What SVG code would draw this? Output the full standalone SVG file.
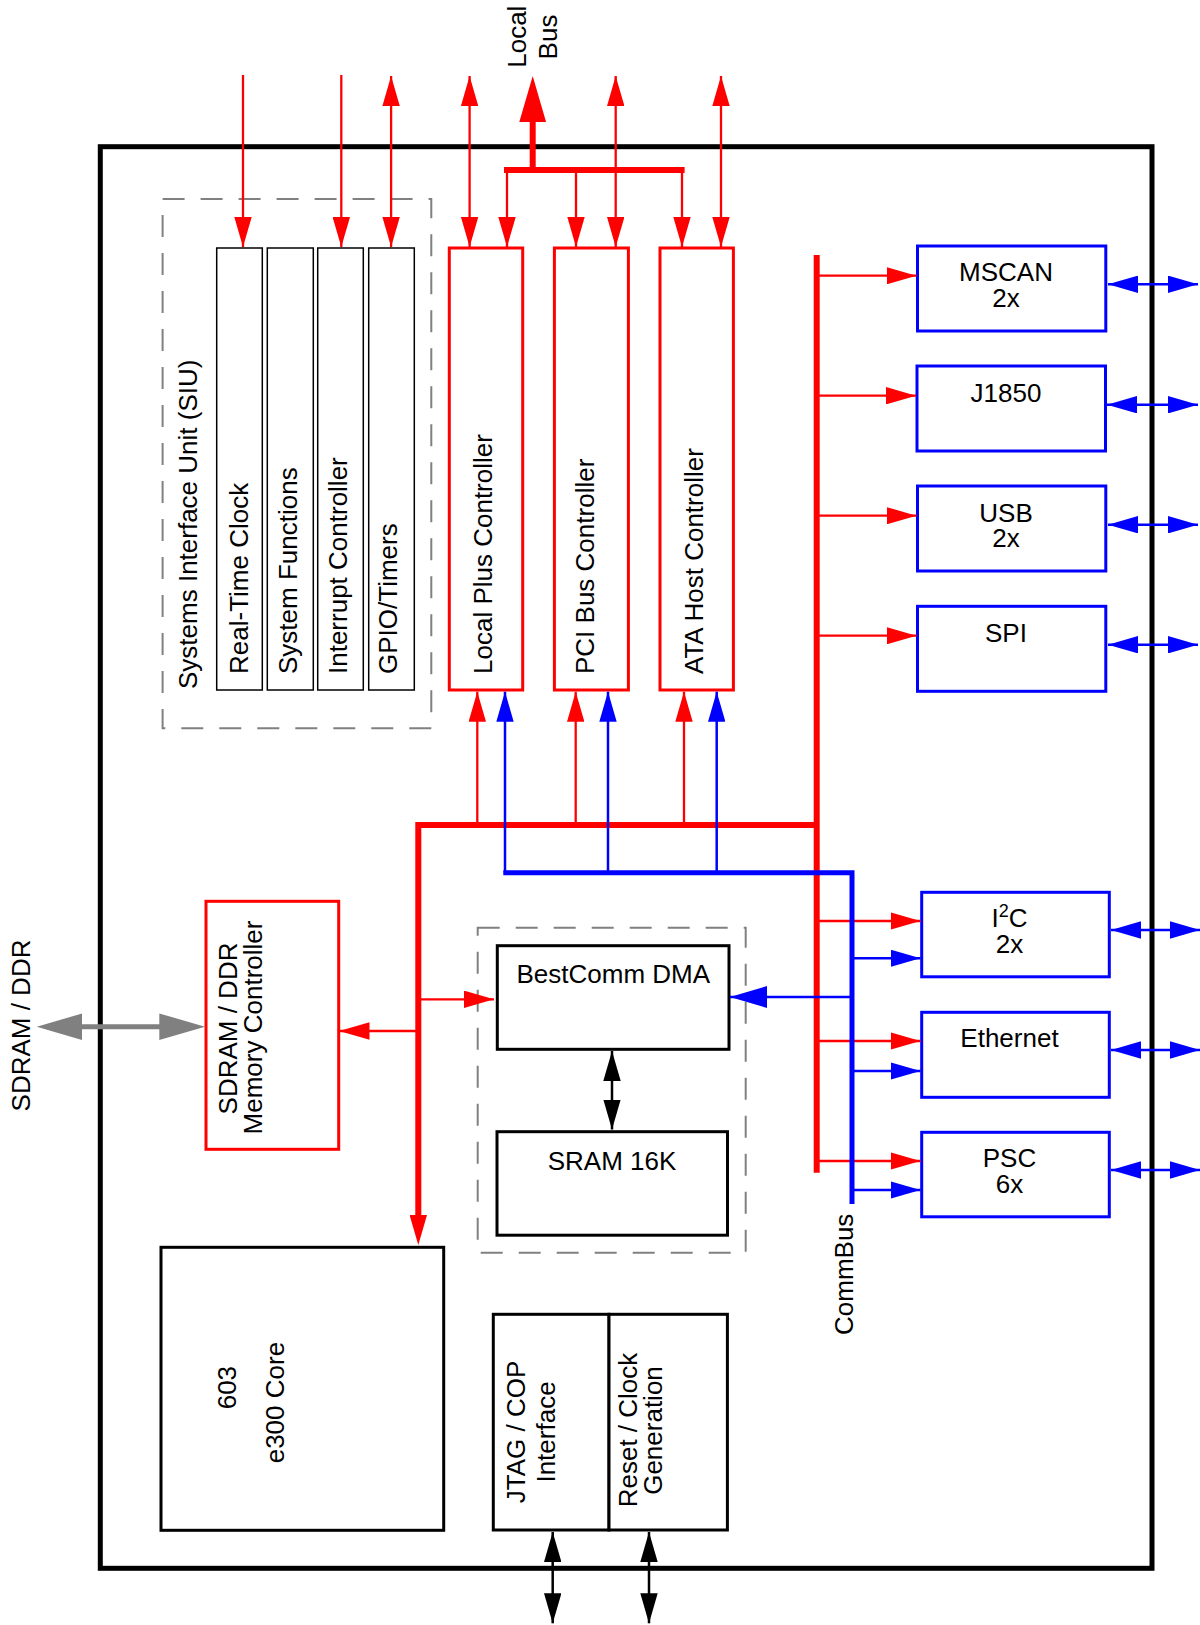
<svg xmlns="http://www.w3.org/2000/svg" width="1200" height="1625" viewBox="0 0 1200 1625">
<style>
.t{font-family:"Liberation Sans",Arial,Helvetica,sans-serif;font-size:26px;fill:#000}
.m{text-anchor:middle}
.rbox{fill:#fff;stroke:#f00;stroke-width:3}
.bbox{fill:#fff;stroke:#00f;stroke-width:3}
.kbox{fill:#fff;stroke:#000;stroke-width:3}
.sub{fill:#fff;stroke:#000;stroke-width:1.5}
.dash{fill:none;stroke:#808080;stroke-width:2;stroke-dasharray:22 16}
.rl{fill:none;stroke:#f00;stroke-width:2.3}
.bl{fill:none;stroke:#00f;stroke-width:2.5}
.kl{fill:none;stroke:#000;stroke-width:2.5}
.rbus{fill:none;stroke:#f00;stroke-width:6}
.bbus{fill:none;stroke:#00f;stroke-width:5}
</style>
<defs>
<marker id="mR" markerUnits="userSpaceOnUse" markerWidth="30" markerHeight="17.4" refX="30" refY="8.7" orient="auto-start-reverse"><path d="M0,0 L30,8.7 L0,17.4 z" fill="#f00"/></marker>
<marker id="mB" markerUnits="userSpaceOnUse" markerWidth="30" markerHeight="17.4" refX="30" refY="8.7" orient="auto-start-reverse"><path d="M0,0 L30,8.7 L0,17.4 z" fill="#00f"/></marker>
<marker id="mK" markerUnits="userSpaceOnUse" markerWidth="30" markerHeight="17.4" refX="30" refY="8.7" orient="auto-start-reverse"><path d="M0,0 L30,8.7 L0,17.4 z" fill="#000"/></marker>
<marker id="mBbig" markerUnits="userSpaceOnUse" markerWidth="37" markerHeight="22" refX="37" refY="11" orient="auto-start-reverse"><path d="M0,0 L37,11 L0,22 z" fill="#00f"/></marker>
<marker id="mRbig" markerUnits="userSpaceOnUse" markerWidth="46" markerHeight="26.8" refX="2" refY="13.4" orient="auto-start-reverse"><path d="M0,0 L46,13.4 L0,26.8 z" fill="#f00"/></marker>
<marker id="mRbus" markerUnits="userSpaceOnUse" markerWidth="30" markerHeight="17.4" refX="2" refY="8.7" orient="auto-start-reverse"><path d="M0,0 L30,8.7 L0,17.4 z" fill="#f00"/></marker>
<marker id="mG" markerUnits="userSpaceOnUse" markerWidth="46" markerHeight="26.6" refX="2" refY="13.3" orient="auto-start-reverse"><path d="M0,0 L45.7,13.3 L0,26.6 z" fill="#808080"/></marker>
</defs>
<rect width="1200" height="1625" fill="#fff"/>

<g id="chip-border">
<rect x="100.3" y="146.7" width="1051.7" height="1421.6" fill="none" stroke="#000" stroke-width="5"/>
</g>

<g id="labels">
<text class="t m" transform="translate(526,36.7) rotate(-90)">Local</text>
<text class="t m" transform="translate(557.3,37) rotate(-90)">Bus</text>
<text class="t m" transform="translate(30,1025.5) rotate(-90)">SDRAM / DDR</text>
<text class="t" transform="translate(853.3,1335) rotate(-90)">CommBus</text>
</g>

<g id="siu">
<rect class="dash" x="162.6" y="199" width="268.7" height="529.3"/>
<text class="t" transform="translate(197,689) rotate(-90)">Systems Interface Unit (SIU)</text>
</g>
<g id="rtc">
<rect class="sub" x="216.7" y="248" width="45.6" height="442"/>
<text class="t" transform="translate(247.5,674) rotate(-90)">Real-Time Clock</text>
</g>
<g id="sysfunc">
<rect class="sub" x="267.3" y="248" width="46" height="442"/>
<text class="t" transform="translate(297,674) rotate(-90)">System Functions</text>
</g>
<g id="intctrl">
<rect class="sub" x="317.7" y="248" width="45.6" height="442"/>
<text class="t" transform="translate(346.5,674) rotate(-90)">Interrupt Controller</text>
</g>
<g id="gpio">
<rect class="sub" x="368.7" y="248" width="45.6" height="442"/>
<text class="t" transform="translate(397,674) rotate(-90)">GPIO/Timers</text>
</g>

<g id="lpc">
<rect class="rbox" x="449.3" y="248" width="73.4" height="442"/>
<text class="t" transform="translate(492,674) rotate(-90)">Local Plus Controller</text>
</g>
<g id="pci">
<rect class="rbox" x="554.4" y="248" width="74" height="442"/>
<text class="t" transform="translate(593.5,674) rotate(-90)">PCI Bus Controller</text>
</g>
<g id="ata">
<rect class="rbox" x="660" y="248" width="73.4" height="442"/>
<text class="t" transform="translate(703,674) rotate(-90)">ATA Host Controller</text>
</g>

<g id="mscan">
<rect class="bbox" x="917.5" y="246" width="188.3" height="85"/>
<text class="t m" x="1006" y="281">MSCAN</text>
<text class="t m" x="1006" y="307">2x</text>
</g>
<g id="j1850">
<rect class="bbox" x="917" y="366" width="188.5" height="85"/>
<text class="t m" x="1006" y="401.5">J1850</text>
</g>
<g id="usb">
<rect class="bbox" x="917.5" y="486" width="188.3" height="85"/>
<text class="t m" x="1006" y="521.5">USB</text>
<text class="t m" x="1006" y="547.3">2x</text>
</g>
<g id="spi">
<rect class="bbox" x="917.5" y="606.3" width="188.3" height="85"/>
<text class="t m" x="1006" y="641.5">SPI</text>
</g>
<g id="i2c">
<rect class="bbox" x="921.7" y="892.3" width="187.6" height="84.5"/>
<text class="t m" x="1009.5" y="926.7">I<tspan dy="-10" font-size="18">2</tspan><tspan dy="10">C</tspan></text>
<text class="t m" x="1009.5" y="953.3">2x</text>
</g>
<g id="ethernet">
<rect class="bbox" x="921.7" y="1012.3" width="187.6" height="85"/>
<text class="t m" x="1009.5" y="1046.7">Ethernet</text>
</g>
<g id="psc">
<rect class="bbox" x="921.7" y="1132.3" width="187.6" height="84.5"/>
<text class="t m" x="1009.5" y="1166.7">PSC</text>
<text class="t m" x="1009.5" y="1193.3">6x</text>
</g>

<g id="sdram-ctrl">
<rect class="rbox" x="206" y="901.3" width="132.7" height="248"/>
<text class="t m" transform="translate(236.7,1028.5) rotate(-90)">SDRAM / DDR</text>
<text class="t m" transform="translate(262.3,1027.5) rotate(-90)">Memory Controller</text>
</g>

<g id="bestcomm-group">
<rect class="dash" x="477.7" y="927.7" width="268" height="325"/>
</g>
<g id="bestcomm">
<rect class="kbox" x="497.3" y="945.7" width="231.7" height="103.6"/>
<text class="t m" x="613.3" y="983.3">BestComm DMA</text>
</g>
<g id="sram">
<rect class="kbox" x="497" y="1131.7" width="230.5" height="103.5"/>
<text class="t m" x="612" y="1170">SRAM 16K</text>
</g>

<g id="core">
<rect class="kbox" x="161" y="1247.3" width="282.7" height="283"/>
<text class="t" transform="translate(236,1409.3) rotate(-90)">603</text>
<text class="t" transform="translate(284.3,1463.3) rotate(-90)">e300 Core</text>
</g>
<g id="jtag">
<rect class="kbox" x="493.3" y="1314.3" width="115.7" height="215.7"/>
<text class="t m" transform="translate(524.8,1432) rotate(-90)">JTAG / COP</text>
<text class="t m" transform="translate(555,1432) rotate(-90)">Interface</text>
</g>
<g id="reset-clock">
<rect class="kbox" x="609" y="1314.3" width="118.4" height="215.7"/>
<text class="t m" transform="translate(636.7,1430) rotate(-90)">Reset / Clock</text>
<text class="t m" transform="translate(662.4,1430.5) rotate(-90)">Generation</text>
</g>

<g id="connectors">
<!-- top external signals -->
<line class="rl" x1="243" y1="75" x2="243" y2="247" marker-end="url(#mR)"/>
<line class="rl" x1="341.3" y1="75" x2="341.3" y2="247" marker-end="url(#mR)"/>
<line class="rl" x1="391.1" y1="76" x2="391.1" y2="247" marker-start="url(#mR)" marker-end="url(#mR)"/>
<line class="rl" x1="469.6" y1="76" x2="469.6" y2="247" marker-start="url(#mR)" marker-end="url(#mR)"/>
<line class="rl" x1="615.7" y1="76" x2="615.7" y2="247" marker-start="url(#mR)" marker-end="url(#mR)"/>
<line class="rl" x1="721" y1="76" x2="721" y2="247" marker-start="url(#mR)" marker-end="url(#mR)"/>
<!-- local bus -->
<line class="rbus" x1="532.7" y1="170" x2="532.7" y2="120" marker-end="url(#mRbig)"/>
<line class="rbus" x1="504" y1="170" x2="684.6" y2="170"/>
<line class="rl" x1="507" y1="170" x2="507" y2="247" marker-end="url(#mR)"/>
<line class="rl" x1="576" y1="170" x2="576" y2="247" marker-end="url(#mR)"/>
<line class="rl" x1="682" y1="170" x2="682" y2="247" marker-end="url(#mR)"/>
<!-- red system bus -->
<line class="rbus" x1="816.7" y1="255" x2="816.7" y2="1172.7"/>
<path class="rbus" d="M816.7,825 L418.3,825 L418.3,1217" marker-end="url(#mRbus)"/>
<line class="rl" x1="477.3" y1="825" x2="477.3" y2="691.7" marker-end="url(#mR)"/>
<line class="rl" x1="575.7" y1="825" x2="575.7" y2="691.7" marker-end="url(#mR)"/>
<line class="rl" x1="684" y1="825" x2="684" y2="691.7" marker-end="url(#mR)"/>
<line class="rl" x1="418.3" y1="999.3" x2="494" y2="999.3" marker-end="url(#mR)"/>
<line class="rl" x1="418.3" y1="1031" x2="339.5" y2="1031" marker-end="url(#mR)"/>
<!-- red bus to peripherals -->
<line class="rl" x1="816.7" y1="275.7" x2="916.5" y2="275.7" marker-end="url(#mR)"/>
<line class="rl" x1="816.7" y1="395.7" x2="916" y2="395.7" marker-end="url(#mR)"/>
<line class="rl" x1="816.7" y1="515.7" x2="916.5" y2="515.7" marker-end="url(#mR)"/>
<line class="rl" x1="816.7" y1="635.7" x2="916.5" y2="635.7" marker-end="url(#mR)"/>
<line class="rl" x1="816.7" y1="921" x2="920.5" y2="921" marker-end="url(#mR)"/>
<line class="rl" x1="816.7" y1="1041" x2="920.5" y2="1041" marker-end="url(#mR)"/>
<line class="rl" x1="816.7" y1="1161" x2="920.5" y2="1161" marker-end="url(#mR)"/>
<!-- blue CommBus -->
<path class="bbus" d="M503.3,872.7 L852,872.7 L852,1204"/>
<line class="bl" x1="505" y1="872.7" x2="505" y2="691.7" marker-end="url(#mB)"/>
<line class="bl" x1="608" y1="872.7" x2="608" y2="691.7" marker-end="url(#mB)"/>
<line class="bl" x1="716.7" y1="872.7" x2="716.7" y2="691.7" marker-end="url(#mB)"/>
<line class="bl" x1="852" y1="997" x2="730" y2="997" marker-end="url(#mBbig)"/>
<line class="bl" x1="852" y1="958.3" x2="920.5" y2="958.3" marker-end="url(#mB)"/>
<line class="bl" x1="852" y1="1071" x2="920.5" y2="1071" marker-end="url(#mB)"/>
<line class="bl" x1="852" y1="1190" x2="920.5" y2="1190" marker-end="url(#mB)"/>
<!-- external peripheral I/O -->
<line class="bl" x1="1108" y1="284.3" x2="1198" y2="284.3" marker-start="url(#mB)" marker-end="url(#mB)"/>
<line class="bl" x1="1107" y1="404.7" x2="1198" y2="404.7" marker-start="url(#mB)" marker-end="url(#mB)"/>
<line class="bl" x1="1108" y1="524.7" x2="1198" y2="524.7" marker-start="url(#mB)" marker-end="url(#mB)"/>
<line class="bl" x1="1108" y1="644.7" x2="1198" y2="644.7" marker-start="url(#mB)" marker-end="url(#mB)"/>
<line class="bl" x1="1111" y1="930" x2="1200" y2="930" marker-start="url(#mB)" marker-end="url(#mB)"/>
<line class="bl" x1="1111" y1="1050" x2="1200" y2="1050" marker-start="url(#mB)" marker-end="url(#mB)"/>
<line class="bl" x1="1111" y1="1170" x2="1200" y2="1170" marker-start="url(#mB)" marker-end="url(#mB)"/>
<!-- memory -->
<line x1="80.4" y1="1026.7" x2="161.3" y2="1026.7" stroke="#808080" stroke-width="5" marker-start="url(#mG)" marker-end="url(#mG)"/>
<line class="kl" x1="612" y1="1051" x2="612" y2="1129.5" marker-start="url(#mK)" marker-end="url(#mK)"/>
<!-- debug / clock -->
<line class="kl" x1="552.7" y1="1532" x2="552.7" y2="1623.3" marker-start="url(#mK)" marker-end="url(#mK)"/>
<line class="kl" x1="649" y1="1532" x2="649" y2="1623.3" marker-start="url(#mK)" marker-end="url(#mK)"/>
</g>
</svg>
